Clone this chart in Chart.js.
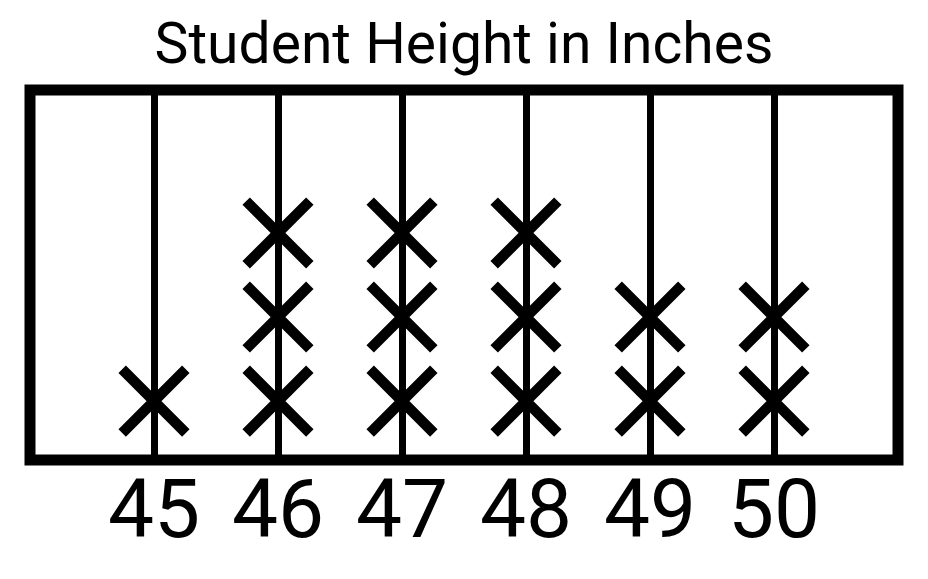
<!DOCTYPE html>
<html>
<head>
<meta charset="utf-8">
<script src="https://cdn.jsdelivr.net/npm/chart.js@4"></script>
<style>
html,body{margin:0;padding:0;background:#fff;}
#wrap{width:928px;height:579px;}
</style>
</head>
<body>
<div id="wrap"><canvas id="c" width="928" height="579"></canvas></div>
<script>
const titleText = "Student Height in Inches";
const heights = [45, 46, 47, 48, 49, 50];
const counts = [1, 3, 3, 3, 2, 2];
const xMin = 44, xMax = 51;
const yMin = 0.3, yMax = 4.7;

const points = [];
heights.forEach((h, i) => {
  for (let k = 1; k <= counts[i]; k++) points.push({x: h, y: k});
});

const framePlugin = {
  id: 'frame',
  afterDraw(chart) {
    const a = chart.chartArea, ctx = chart.ctx;
    ctx.save();
    ctx.strokeStyle = '#000';
    ctx.lineWidth = 11;
    ctx.strokeRect(a.left, a.top, a.right - a.left, a.bottom - a.top);
    ctx.restore();
  }
};

new Chart(document.getElementById('c'), {
  type: 'scatter',
  data: {
    datasets: [{
      data: points,
      pointStyle: 'crossRot',
      radius: 45,
      hoverRadius: 45,
      borderWidth: 10.5,
      hoverBorderWidth: 10.5,
      borderColor: '#000',
      backgroundColor: '#000'
    }]
  },
  options: {
    responsive: false,
    animation: false,
    events: [],
    layout: {autoPadding: false, padding: {left: 30, right: 30, top: 0, bottom: 0}},
    plugins: {
      legend: {display: false},
      tooltip: {enabled: false},
      title: {
        display: true,
        text: titleText,
        color: '#000',
        font: {family: 'Roboto', size: 57, weight: 'normal', lineHeight: 1},
        padding: {top: 20, bottom: 13}
      }
    },
    scales: {
      x: {
        type: 'linear',
        min: xMin, max: xMax,
        afterFit(scale) { scale.height = 119; scale.paddingLeft = 0; scale.paddingRight = 0; },
        border: {display: false},
        grid: {color: '#000', lineWidth: 7, drawTicks: false},
        ticks: {
          stepSize: 1,
          autoSkip: false,
          maxRotation: 0,
          padding: 7,
          color: '#000',
          font: {family: 'Roboto', size: 82},
          callback: v => (heights.includes(v) ? String(v) : '')
        }
      },
      y: {
        display: false,
        min: yMin, max: yMax
      }
    }
  },
  plugins: [framePlugin]
});
</script>
</body>
</html>
